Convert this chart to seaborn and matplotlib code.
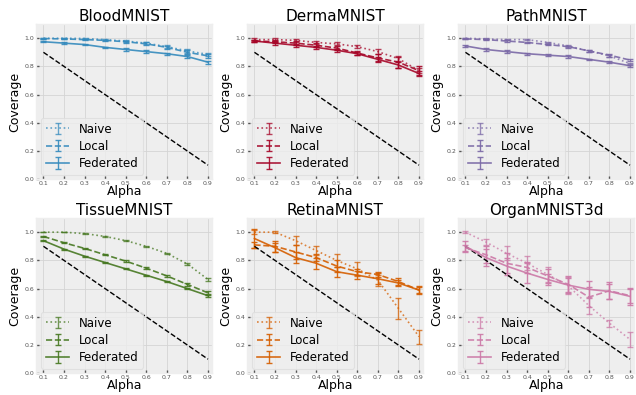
import numpy as np
import matplotlib
matplotlib.use('Agg')
import matplotlib.pyplot as plt
import seaborn as sns

# --- DADOS ---
alphas = [0.1, 0.2, 0.3, 0.4, 0.5, 0.6, 0.7, 0.8, 0.9]
datasets = ['BloodMNIST', 'DermaMNIST', 'PathMNIST', 'TissueMNIST', 'RetinaMNIST', 'OrganMNIST3d']
colors = ['#348ABD', '#A60628', '#7A68A6', '#467821', '#D55E00', '#CC79A7']

naive_mean = [
    [1.0, 1.0, 0.998, 0.99, 0.98, 0.965, 0.94, 0.91, 0.885],
    [0.99, 0.99, 0.985, 0.97, 0.96, 0.94, 0.905, 0.855, 0.77],
    [1.0, 0.995, 0.99, 0.99, 0.97, 0.945, 0.91, 0.875, 0.82],
    [1.0, 1.0, 0.99, 0.97, 0.94, 0.90, 0.85, 0.775, 0.665],
    [1.0, 1.0, 0.94, 0.87, 0.80, 0.74, 0.66, 0.46, 0.26],
    [1.0, 0.93, 0.85, 0.78, 0.70, 0.62, 0.48, 0.355, 0.24],
]
naive_err = [
    [0.003, 0.003, 0.004, 0.005, 0.006, 0.008, 0.01, 0.015, 0.012],
    [0.01, 0.01, 0.012, 0.012, 0.01, 0.012, 0.02, 0.02, 0.02],
    [0.004, 0.004, 0.004, 0.004, 0.005, 0.006, 0.006, 0.008, 0.006],
    [0.002, 0.002, 0.003, 0.003, 0.004, 0.004, 0.005, 0.008, 0.012],
    [0.012, 0.005, 0.03, 0.03, 0.045, 0.05, 0.04, 0.075, 0.05],
    [0.005, 0.02, 0.05, 0.05, 0.05, 0.06, 0.06, 0.025, 0.055],
]
local_mean = [
    [0.997, 0.995, 0.99, 0.985, 0.975, 0.96, 0.935, 0.90, 0.875],
    [0.98, 0.975, 0.965, 0.95, 0.93, 0.895, 0.86, 0.83, 0.77],
    [0.995, 0.99, 0.98, 0.97, 0.955, 0.94, 0.91, 0.88, 0.845],
    [0.97, 0.925, 0.885, 0.84, 0.795, 0.745, 0.69, 0.63, 0.57],
    [0.91, 0.90, 0.86, 0.82, 0.76, 0.72, 0.70, 0.65, 0.59],
    [0.89, 0.84, 0.78, 0.75, 0.69, 0.63, 0.54, 0.585, 0.55],
]
local_err = [
    [0.003, 0.003, 0.004, 0.005, 0.006, 0.01, 0.012, 0.015, 0.012],
    [0.01, 0.01, 0.012, 0.015, 0.015, 0.012, 0.025, 0.04, 0.03],
    [0.004, 0.004, 0.004, 0.004, 0.005, 0.006, 0.006, 0.01, 0.006],
    [0.003, 0.003, 0.004, 0.004, 0.005, 0.005, 0.006, 0.008, 0.01],
    [0.02, 0.04, 0.05, 0.025, 0.04, 0.02, 0.02, 0.025, 0.02],
    [0.02, 0.06, 0.07, 0.04, 0.05, 0.06, 0.07, 0.06, 0.05],
]
fed_mean = [
    [0.975, 0.965, 0.955, 0.935, 0.92, 0.905, 0.89, 0.87, 0.83],
    [0.98, 0.965, 0.95, 0.935, 0.915, 0.89, 0.85, 0.81, 0.75],
    [0.945, 0.92, 0.905, 0.89, 0.88, 0.87, 0.85, 0.83, 0.805],
    [0.94, 0.88, 0.83, 0.785, 0.74, 0.695, 0.65, 0.60, 0.55],
    [0.955, 0.89, 0.82, 0.78, 0.72, 0.695, 0.67, 0.64, 0.59],
    [0.90, 0.82, 0.76, 0.71, 0.665, 0.625, 0.595, 0.58, 0.545],
]
fed_err = [
    [0.005, 0.005, 0.006, 0.006, 0.008, 0.008, 0.008, 0.01, 0.01],
    [0.01, 0.01, 0.01, 0.01, 0.01, 0.01, 0.02, 0.02, 0.02],
    [0.006, 0.008, 0.008, 0.008, 0.006, 0.008, 0.005, 0.005, 0.006],
    [0.004, 0.004, 0.004, 0.004, 0.004, 0.004, 0.004, 0.005, 0.006],
    [0.065, 0.03, 0.04, 0.04, 0.035, 0.03, 0.04, 0.02, 0.03],
    [0.04, 0.06, 0.06, 0.07, 0.04, 0.05, 0.06, 0.05, 0.06],
]

# --- ESTILO ---
plt.style.use('bmh')
sns.set_context('paper')
plt.rcParams.update({
    'axes.facecolor': '#eeeeee',
    'axes.edgecolor': '#eeeeee',
    'grid.color': '#d4d4d4',
    'grid.linestyle': '-',
    'grid.linewidth': 0.6,
    'xtick.labelsize': 4.5,
    'ytick.labelsize': 4.5,
    'xtick.color': '#555555',
    'ytick.color': '#555555',
    'xtick.major.size': 2,
    'ytick.major.size': 2,
    'xtick.major.pad': 1.5,
    'ytick.major.pad': 1.5,
    'font.family': ['DejaVu Sans'],
})

fig, axes = plt.subplots(2, 3, figsize=(6.36, 3.95), dpi=100)
series = [('Naive', ':', naive_mean, naive_err),
          ('Local', '--', local_mean, local_err),
          ('Federated', '-', fed_mean, fed_err)]

for i, ax in enumerate(axes.flat):
    c = colors[i]
    for name, ls, means, errs in series:
        ax.errorbar(alphas, means[i], yerr=errs[i], color=c, linestyle=ls,
                    linewidth=1.2, capsize=2.5, elinewidth=1.0, capthick=1.0,
                    label=name, alpha=0.9 if ls != ':' else 0.75)
    sns.lineplot(x=alphas, y=[1 - a for a in alphas], ax=ax, color='black',
                 linestyle='--', linewidth=1.0, errorbar=None)
    ax.set_ylim(0.0, 1.1)
    ax.set_xlim(0.065, 0.92)
    ax.set_xticks(alphas)
    ax.set_yticks([0.0, 0.2, 0.4, 0.6, 0.8, 1.0])
    ax.set_title(datasets[i], fontsize=11, pad=2)
    ax.set_xlabel('Alpha', fontsize=9, labelpad=-1)
    ax.set_ylabel('Coverage', fontsize=9, labelpad=2)
    ax.legend(loc='lower left', fontsize=8.5, frameon=True, facecolor='#eeeeee',
              edgecolor='#dddddd', handlelength=2.0, labelspacing=0.35,
              borderaxespad=0.4)

fig.subplots_adjust(left=0.057, right=0.997, top=0.939, bottom=0.055, wspace=0.2, hspace=0.25)
fig.savefig('out.png', dpi=100)
